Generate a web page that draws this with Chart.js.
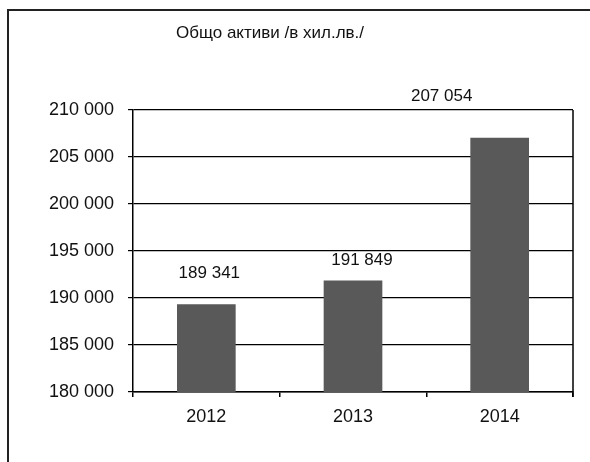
<!DOCTYPE html>
<html>
<head>
<meta charset="utf-8">
<script src="https://cdn.jsdelivr.net/npm/chart.js@4/dist/chart.umd.min.js"></script>
<style>
  html, body { margin: 0; padding: 0; background: #fff; }
  #kutia { position: relative; width: 590px; height: 462px; }
  #ramka { position: absolute; left: 7px; top: 9px; right: 0; bottom: -2px;
           border-left: 2px solid #222; border-top: 2px solid #222; }
  canvas { position: absolute; left: 0; top: 0; }
</style>
</head>
<body>
<div id="kutia">
  <div id="ramka"></div>
  <canvas id="grafika-aktivi" width="590" height="462"></canvas>
</div>
<script>
const zaglavie = 'Общо активи /в хил.лв./'
const godini = ['2012', '2013', '2014']
const aktivi = [189341, 191849, 207054]
const osMin = 180000
const osMax = 210000
const osStapka = 5000

const shrift = '"Liberation Sans", Arial, sans-serif'

// 210000 -> "210 000"
function formatChislo(v) {
  return String(v).replace(/\B(?=(\d{3})+(?!\d))/g, ' ')
}

// надписи над стълбовете (в оригинала са преместени ръчно)
const nadpisi = {
  id: 'nadpisi',
  afterDatasetsDraw(chart, args, opts) {
    const ctx = chart.ctx
    const meta = chart.getDatasetMeta(0)
    ctx.save()
    ctx.font = '17px ' + shrift
    ctx.fillStyle = '#111'
    ctx.textAlign = 'center'
    ctx.textBaseline = 'middle'
    meta.data.forEach((bar, i) => {
      ctx.fillText(formatChislo(aktivi[i]), bar.x + opts.dx[i], bar.y + opts.dy[i])
    })
    ctx.restore()
  }
}

const ramkaGrafika = {
  id: 'ramkaGrafika',
  afterDraw(chart) {
    const ctx = chart.ctx
    const a = chart.chartArea
    ctx.save()
    ctx.strokeStyle = '#000'
    ctx.lineWidth = 1.5
    ctx.beginPath()
    ctx.moveTo(a.right, a.top)
    ctx.lineTo(a.right, a.bottom + 5)
    ctx.stroke()
    // заглавие
    ctx.font = '17px ' + shrift
    ctx.fillStyle = '#111'
    ctx.textAlign = 'center'
    ctx.textBaseline = 'middle'
    ctx.fillText(zaglavie, 270, 33)
    ctx.restore()
  }
}

new Chart(document.querySelector('#grafika-aktivi').getContext('2d'), {
  type: 'bar',
  data: {
    labels: godini,
    datasets: [{
      label: zaglavie,
      data: aktivi,
      backgroundColor: '#595959',
      barPercentage: 0.4,
      categoryPercentage: 1
    }]
  },
  options: {
    responsive: false,
    animation: false,
    layout: { padding: { left: 8, right: 17, top: 110, bottom: 0 } },
    plugins: {
      legend: { display: false },
      title: { display: false },
      tooltip: { enabled: false },
      nadpisi: { dx: [3, 9, -58], dy: [-31, -20, -41] }
    },
    scales: {
      x: {
        afterFit: s => { s.height = 70 },
        grid: { drawOnChartArea: false, offset: true, tickLength: 5, color: '#000', lineWidth: 1.5 },
        border: { color: '#000', width: 1.5 },
        ticks: { color: '#111', padding: 9, font: { family: shrift, size: 18 } }
      },
      y: {
        min: osMin,
        max: osMax,
        afterFit: s => { s.width = 125 },
        grid: { color: '#000', lineWidth: 1.2, tickLength: 5 },
        border: { color: '#000', width: 1.5 },
        ticks: {
          stepSize: osStapka,
          padding: 14,
          color: '#111',
          font: { family: shrift, size: 18 },
          callback: v => formatChislo(v)
        }
      }
    }
  },
  plugins: [nadpisi, ramkaGrafika]
})
</script>
</body>
</html>
